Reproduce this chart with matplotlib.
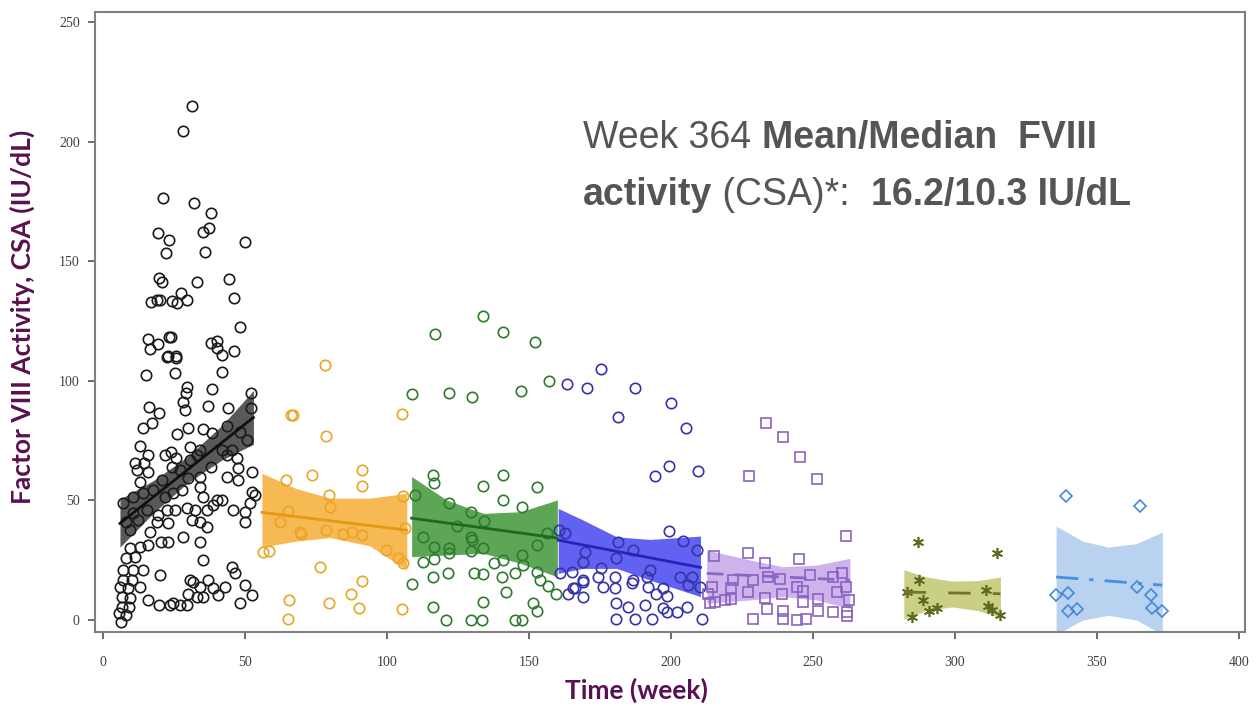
import matplotlib.pyplot as plt

# ---- data (week, FVIII activity IU/dL) ----
black_wk = [31.4, 28.1, 21.0, 31.9, 38.0, 19.4, 23.2, 35.1, 37.2, 50.0,
            22.2, 36.0, 19.8, 20.8, 33.1, 44.5, 16.9, 18.9, 20.1, 24.2,
            26.2, 27.4, 29.5, 46.1, 48.4, 16.0, 16.5, 19.3, 23.2, 23.9,
            22.9, 25.6, 38.0, 40.3, 40.0, 42.1, 46.1,
            22.6, 25.7, 15.1, 25.4, 42.0, 29.5, 29.2, 38.3, 52.1, 16.3,
            19.8, 28.3, 28.9, 37.0, 43.9, 52.1, 17.3, 14.2, 26.2, 30.0,
            35.3, 38.3, 43.6, 48.2, 50.6, 13.0, 30.6, 23.9, 34.2, 41.9,
            45.3, 16.0, 11.3, 14.4, 21.8, 25.7, 30.6, 33.0, 43.6, 47.1,
            24.2, 11.9, 16.0, 27.1, 37.9, 47.4, 52.4, 43.6, 13.0, 20.7,
            30.0, 34.2, 47.6, 7.2, 10.7, 14.2, 17.7, 21.8, 24.8, 27.7,
            34.2, 35.3, 40.0, 41.8, 52.4, 53.5, 51.8, 10.7, 15.4, 19.5,
            22.6, 25.4, 29.5, 32.4, 36.5, 38.8, 45.9, 50.0, 8.3, 12.4,
            18.9, 23.0, 31.2, 34.2, 36.5, 50.0, 9.5, 16.5, 20.3, 23.0,
            28.1, 34.2, 9.5, 13.0, 16.0, 8.3, 11.3, 35.1, 7.2, 10.7,
            14.2, 20.1, 45.3, 46.5, 7.2, 10.1, 30.6, 31.8, 37.1, 50.0,
            6.0, 8.9, 13.0, 34.2, 38.8, 43.0, 30.0, 33.0, 35.3, 40.6,
            52.4, 6.6, 9.5, 16.0, 48.2, 6.6, 9.3, 19.8, 23.6, 24.8,
            27.1, 29.5, 5.7, 8.3, 6.2]
black_val = [215.0, 204.6, 176.3, 174.5, 170.0, 161.7, 158.9, 162.2, 163.9, 158.2,
             153.3, 154.0, 142.8, 141.4, 141.3, 142.4, 133.0, 133.8, 134.0, 133.5,
             132.7, 136.8, 134.0, 134.5, 122.5, 117.3, 113.5, 115.4, 118.4, 118.4,
             110.4, 110.4, 115.7, 116.8, 113.6, 110.8, 112.6,
             110.0, 109.4, 102.4, 103.1, 103.5, 97.5, 95.1, 96.8, 95.0, 89.2,
             86.4, 91.3, 87.8, 89.6, 88.8, 88.5, 82.5, 80.1, 77.6, 80.1,
             79.7, 78.0, 81.1, 78.8, 75.3, 72.7, 72.5, 70.4, 71.1, 71.1,
             71.1, 69.0, 65.5, 65.5, 69.0, 67.6, 66.9, 69.0, 69.0, 67.6,
             64.1, 62.7, 62.0, 62.7, 64.1, 63.7, 62.0, 60.0, 57.8, 58.5,
             59.2, 60.0, 58.5, 48.8, 51.6, 53.0, 54.3, 51.6, 53.0, 54.3,
             55.7, 51.6, 50.2, 50.2, 53.7, 52.3, 48.8, 44.6, 46.0, 43.9,
             46.0, 46.0, 46.7, 46.0, 46.0, 48.1, 46.0, 45.3, 41.1, 41.8,
             41.1, 40.7, 41.8, 41.1, 39.0, 41.1, 37.6, 36.9, 32.7, 32.7,
             34.8, 32.7, 30.0, 30.7, 31.4, 25.8, 26.5, 25.1, 20.9, 20.9,
             20.9, 18.8, 22.3, 19.5, 16.7, 16.7, 16.7, 16.0, 16.7, 14.6,
             13.9, 13.2, 13.9, 13.9, 13.2, 13.9, 11.1, 9.8, 9.8, 10.5,
             10.5, 9.8, 9.1, 8.4, 7.0, 5.6, 5.6, 6.3, 6.3, 7.0,
             6.3, 6.3, 2.8, 2.1, -0.7]

orange_wk = [78.2, 66.1, 66.9, 105.4, 78.5, 91.4, 91.4, 64.4, 73.5, 79.6,
             79.9, 105.5, 65.3, 62.3, 69.4, 69.6, 78.5, 84.6, 87.6, 91.4,
             106.3, 56.2, 58.6, 99.6, 104.0, 105.5, 76.4, 91.4, 87.2, 65.6,
             79.6, 90.3, 105.4, 65.3]
orange_val = [106.6, 85.7, 85.7, 86.1, 76.9, 62.7, 56.0, 58.5, 60.6, 52.3,
              47.4, 51.8, 45.7, 41.1, 36.9, 35.8, 37.6, 36.0, 37.0, 35.5,
              38.3, 28.6, 29.0, 29.3, 25.8, 23.7, 22.0, 16.4, 10.9, 8.4,
              7.0, 4.9, 4.5, 0.3]

green_wk = [134.0, 116.9, 141.0, 152.1, 157.2, 108.7, 121.8, 129.9, 147.1, 116.3,
            116.5, 140.7, 133.7, 152.7, 109.9, 140.7, 121.8, 147.7, 129.6, 134.2,
            124.8, 112.6, 156.2, 129.5, 129.8, 116.7, 122.0, 122.0, 129.6, 133.7,
            152.7, 147.7, 112.8, 116.7, 137.7, 140.7, 148.0, 121.6, 130.6, 133.9,
            116.3, 140.4, 145.0, 152.7, 153.9, 108.7, 156.8, 159.7, 141.9, 133.7,
            116.3, 151.3, 152.9, 120.8, 129.5, 133.3, 145.0, 147.4]
green_val = [127.1, 119.6, 120.3, 116.1, 100.0, 94.5, 94.8, 93.1, 95.7, 60.6,
             57.4, 60.6, 56.0, 55.5, 52.3, 50.2, 48.8, 47.4, 45.0, 41.4,
             39.3, 34.6, 36.2, 34.6, 33.4, 30.7, 30.0, 27.9, 29.0, 30.0,
             31.4, 27.2, 24.4, 25.4, 24.0, 25.1, 23.0, 19.5, 19.5, 19.2,
             18.1, 18.1, 19.8, 20.2, 16.7, 15.1, 14.2, 10.9, 11.9, 7.7,
             5.3, 7.0, 3.9, 0.0, 0.0, 0.0, 0.0, 0.0]

blue_wk = [175.2, 163.3, 170.3, 187.3, 199.9, 181.2, 205.3, 199.3, 194.4, 209.4,
           199.3, 160.7, 162.7, 204.1, 181.2, 209.0, 169.7, 186.7, 168.9, 180.8,
           175.2, 160.9, 165.0, 192.6, 174.4, 180.3, 186.7, 191.4, 203.2, 207.3,
           169.1, 176.2, 180.3, 186.2, 192.0, 206.1, 210.2, 166.2, 163.9, 168.9,
           197.3, 194.9, 198.5, 180.8, 185.0, 190.8, 197.3, 198.5, 202.0, 205.7,
           180.8, 187.3, 193.2, 210.8, 165.5, 168.9]
blue_val = [104.8, 98.6, 96.9, 96.9, 90.6, 85.0, 80.4, 64.4, 60.2, 62.3,
            37.4, 37.6, 36.2, 33.2, 32.5, 29.5, 28.6, 29.3, 24.4, 25.8,
            21.6, 19.5, 20.2, 20.9, 18.1, 17.8, 16.7, 17.8, 18.1, 18.1,
            16.7, 13.9, 13.2, 15.3, 13.9, 14.6, 13.9, 13.2, 11.1, 9.8,
            13.2, 11.1, 10.0, 7.0, 5.6, 6.3, 4.9, 3.5, 3.5, 5.6,
            0.3, 0.3, 0.3, 0.3, 13.4, 16.0]

purple_wk = [233.5, 239.5, 245.4, 227.6, 251.5, 261.5, 215.0, 227.2, 233.1, 245.2,
             260.4, 221.9, 229.0, 234.3, 238.4, 249.0, 257.2, 214.3, 221.3, 227.2,
             239.0, 244.3, 246.6, 258.4, 261.6, 215.5, 219.0, 221.3, 233.1, 246.6,
             251.9, 262.8, 233.8, 239.5, 251.9, 257.2, 261.9, 229.0, 239.5, 244.3,
             247.5, 261.9, 213.1, 213.7]
purple_val = [82.2, 76.4, 68.0, 60.2, 58.8, 35.1, 26.8, 27.9, 24.0, 25.4,
              19.5, 16.7, 16.7, 18.1, 17.0, 18.8, 18.1, 13.9, 13.2, 11.8,
              11.1, 13.9, 12.2, 11.8, 13.9, 7.7, 8.4, 8.6, 9.1, 7.7,
              8.6, 8.4, 4.5, 3.9, 3.9, 3.5, 3.5, 0.3, 0.3, 0.0,
              0.3, 1.7, 11.1, 7.0]

olive_wk = [287.0, 314.8, 287.3, 283.0, 288.7, 291.0, 293.6, 285.0, 311.0, 311.6, 313.0, 315.8]
olive_val = [32.6, 28.0, 16.7, 11.7, 8.4, 3.8, 5.0, 1.3, 12.5, 5.9, 4.2, 2.1]

ltblue_wk = [339.0, 365.0, 335.6, 339.8, 339.8, 343.0, 364.0, 369.0, 369.4, 373.0]
ltblue_val = [52.0, 47.7, 10.4, 11.3, 3.8, 4.6, 13.8, 10.4, 5.0, 3.8]

# fitted lines (ends) and confidence bands
black_fit = ([6, 53], [40.4, 84.7])
black_band = ([6, 18, 30, 42, 53], [30.5, 45, 57.5, 67, 73.5], [50.5, 58.5, 68.5, 81.5, 96])
orange_fit = ([56, 107], [45.0, 37.6])
orange_band = ([56, 68, 80, 94, 107], [30.5, 33, 34.5, 31, 21], [61.4, 55, 51, 51, 53])
green_fit = ([108.7, 160], [42.6, 34.3])
green_band = ([108.7, 121, 134, 147, 160], [26.5, 27.2, 27.9, 23.7, 18.1], [60, 50.2, 44.6, 45.3, 50.2])
blue_fit = ([160.3, 210.4], [33.4, 22.0])
blue_band = ([160.3, 169.1, 180.9, 192.6, 210.4], [19.5, 21.6, 21.6, 16.7, 9.8], [46.7, 41.8, 34.8, 33.7, 35.1])
purple_fit = ([212.6, 263], [19.5, 16.7])
purple_band = ([212.6, 227.8, 239.5, 251.3, 263], [7, 8.4, 9.8, 8.4, 4.9], [29.3, 25.1, 22.3, 23, 25.8])
olive_fit = ([282, 316], [11.7, 11.0])
olive_band = ([282, 290, 299, 308, 316], [0.5, 4, 5.5, 4, 1], [21, 18, 16.3, 16.5, 18])
ltblue_fit = ([335.6, 373], [18.0, 14.6])
ltblue_band = ([335.6, 345, 354, 364, 373], [-6, 0, 2, 0, -6], [39.3, 33, 30.5, 32, 36.8])

groups = [
    (black_wk, black_val, black_fit, black_band, '#1a1a1a', '#505050', 0.95, '#111111', '-', 'o', 7.5),
    (orange_wk, orange_val, orange_fit, orange_band, '#e8a624', '#f5b240', 0.9, '#e39a12', '-', 'o', 7.5),
    (green_wk, green_val, green_fit, green_band, '#2f7a2f', '#4a9c44', 0.9, '#1f6a1f', '-', 'o', 7.5),
    (blue_wk, blue_val, blue_fit, blue_band, '#3434a8', '#5a5af2', 0.95, '#2424b8', '-', 'o', 7.5),
    (purple_wk, purple_val, purple_fit, purple_band, '#8a62c0', '#c9aae9', 0.9, '#8a66c4', (0, (6, 4)), 's', 7),
    (olive_wk, olive_val, olive_fit, olive_band, '#5d6b20', '#c5ca78', 0.9, '#6a7828', (0, (8, 8)), (6, 2, 0), 8),
    (ltblue_wk, ltblue_val, ltblue_fit, ltblue_band, '#4289dc', '#b5d0ef', 0.95, '#4a8fe0', (0, (8, 4, 1.5, 4)), 'D', 6),
]

fig = plt.figure(figsize=(12.56, 7.05), dpi=100)
ax = fig.add_axes([0.0756, 0.1035, 0.9156, 0.8795])

for wk, val, fit, band, mcol, bcol, balpha, lcol, ls, mk, ms in groups:
    ax.fill_between(band[0], band[1], band[2], color=bcol, alpha=balpha, lw=0, zorder=1)
    ax.plot(wk, val, linestyle='none', marker=mk, markersize=ms, markerfacecolor='none',
            markeredgecolor=mcol, markeredgewidth=1.2, zorder=2)
    ax.plot(fit[0], fit[1], color=lcol, lw=2, linestyle=ls, zorder=3)

ax.set_xlim(-2.8, 402.1)
ax.set_ylim(-5, 254.2)
ax.set_xticks(range(0, 401, 50))
ax.set_yticks(range(0, 251, 50))
for sp in ax.spines.values():
    sp.set_color('#808080')
    sp.set_linewidth(1.5)
ax.tick_params(length=5, width=1.3, color='#606060', labelcolor='#404040',
               labelsize=10, labelfontfamily='Liberation Serif')
ax.tick_params(axis='x', pad=12)
ax.tick_params(axis='y', pad=6)

purple = '#5a1050'
fig.text(0.0175, 0.551, 'Factor VIII Activity, CSA (IU/dL)', rotation=90,
         ha='center', va='center', color=purple, fontsize=19, fontweight='bold',
         family='Lato')
fig.text(0.507, 1 - 699 / 705, 'Time (week)', ha='center', va='baseline', color=purple,
         fontsize=19, fontweight='bold', family='Lato')

# annotation with mixed weights, pieces chained one after another
gray = '#555555'
def rich_line(x, y, parts):
    t = fig.text(x, y, parts[0][0], fontweight=parts[0][1], color=gray,
                 fontsize=27, family='Liberation Sans', va='baseline')
    for s, w in parts[1:]:
        t = ax.annotate(s, xy=(1, 0), xycoords=t, va='bottom', ha='left',
                        fontweight=w, color=gray, fontsize=27, family='Liberation Sans')

rich_line(0.4642, 1 - 148 / 705, [('Week 364 ', 'normal'), ('Mean/Median  FVIII', 'bold')])
rich_line(0.4642, 1 - 205 / 705, [('activity', 'bold'), (' (CSA)*:  ', 'normal'),
                                  ('16.2/10.3 IU/dL', 'bold')])

fig.savefig('out.png', dpi=100)
